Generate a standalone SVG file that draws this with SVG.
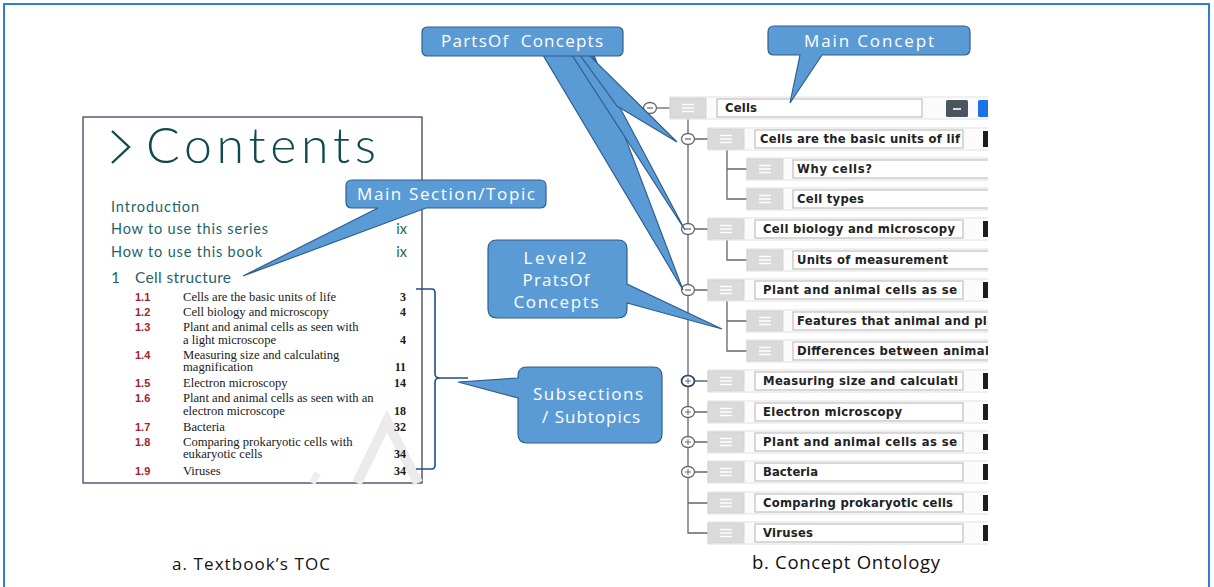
<svg xmlns="http://www.w3.org/2000/svg" width="1214" height="587" viewBox="0 0 1214 587">
  <style>
    .toc-h { font-family: "Lato", "Noto Sans", sans-serif; fill: #1d6468; }
    .num { font-family: "Liberation Sans", sans-serif; font-weight: bold; font-size: 11px; fill: #a3222a; }
    .item { font-family: "Liberation Serif", serif; font-size: 12.6px; fill: #1a1a1a; }
    .pg { font-family: "Liberation Serif", serif; font-size: 12px; fill: #1a1a1a; text-anchor: end; font-weight: bold; }
    .co { fill: #5b9bd5; stroke: #2f5f8e; stroke-width: 1.2; }
    .co-t { font-family: "Open Sans", "Noto Sans", sans-serif; font-size: 17px; fill: #ffffff; text-anchor: middle; white-space: pre; }
    .rowbg { fill: #fbfbfb; stroke: #e2e2e2; stroke-width: 1; }
    .handle { fill: #dadada; stroke: #cfcfcf; stroke-width: 0.8; }
    .grip { stroke: #ffffff; stroke-width: 1.4; }
    .tbox { fill: #ffffff; stroke: #b3b3b3; stroke-width: 1; }
    .tt { font-family: "DejaVu Sans", "Liberation Sans", sans-serif; font-weight: bold; font-size: 11.6px; fill: #222; }
    .tree-line { stroke: #666; stroke-width: 1.3; fill: none; }
    .tog { fill: #ffffff; stroke: #666; stroke-width: 1.3; }
    .bar { fill: #1e1e1e; }
    .cap { font-family: "Open Sans", "Noto Sans", sans-serif; fill: #111; }
  </style>
  <defs>
    <g id="grip">
      <rect class="handle" x="0" y="-10" width="36" height="20"/>
      <line class="grip" x1="12" y1="-3.5" x2="24" y2="-3.5"/>
      <line class="grip" x1="12" y1="0" x2="24" y2="0"/>
      <line class="grip" x1="12" y1="3.5" x2="24" y2="3.5"/>
    </g>
    <g id="tog-minus">
      <ellipse class="tog" cx="0" cy="0" rx="6.5" ry="5.5"/>
      <line x1="-3" y1="0" x2="3" y2="0" stroke="#666" stroke-width="1.2"/>
    </g>
    <g id="tog-plus">
      <ellipse class="tog" cx="0" cy="0" rx="6.5" ry="5.5"/>
      <line x1="-3" y1="0" x2="3" y2="0" stroke="#666" stroke-width="1"/>
      <line x1="0" y1="-3" x2="0" y2="3" stroke="#666" stroke-width="1"/>
    </g>
    <clipPath id="treeClip"><rect x="630" y="60" width="358" height="500"/></clipPath>
  </defs>

  <rect width="1214" height="587" fill="#ffffff"/>
  <!-- outer frame -->
  <rect x="4" y="4" width="1205" height="620" fill="none" stroke="#2e7fd1" stroke-width="2"/>

  <!-- a. textbook contents page -->
  <g id="toc">
    <rect x="83" y="117" width="339" height="366" fill="#ffffff" stroke="#2a3550" stroke-width="1.2"/>
    <!-- faint watermark stroke -->
    <path d="M357 483 L387 421 L418 483" fill="none" stroke="#ebebeb" stroke-width="10"/>
    <path d="M312 483 L318 473" fill="none" stroke="#efefef" stroke-width="7"/>
    <path d="M112 131 L129 147 L112 163" fill="none" stroke="#0f4a4f" stroke-width="2.4"/>
    <text class="toc-h" x="146" y="163" font-size="50" font-weight="300" style="fill:#0f4a4f" textLength="230">Contents</text>
    <text class="toc-h" x="111" y="212" font-size="14.5" textLength="88">Introduction</text>
    <text class="toc-h" x="111" y="234" font-size="14.5" textLength="157">How to use this series</text>
    <text class="toc-h" x="407" y="234" font-size="14.5" text-anchor="end">ix</text>
    <text class="toc-h" x="111" y="257" font-size="14.5" textLength="151">How to use this book</text>
    <text class="toc-h" x="407" y="257" font-size="14.5" text-anchor="end">ix</text>
    <text class="toc-h" x="111" y="283" font-size="15.5">1</text>
    <text class="toc-h" x="135" y="283" font-size="15.5" textLength="96">Cell structure</text>

    <text class="num" x="135" y="301">1.1</text>
    <text class="item" x="183" y="301">Cells are the basic units of life</text>
    <text class="pg" x="406" y="301">3</text>
    <text class="num" x="135" y="316">1.2</text>
    <text class="item" x="183" y="316">Cell biology and microscopy</text>
    <text class="pg" x="406" y="316">4</text>
    <text class="num" x="135" y="331">1.3</text>
    <text class="item" x="183" y="331">Plant and animal cells as seen with</text>
    <text class="item" x="183" y="344">a light microscope</text>
    <text class="pg" x="406" y="344">4</text>
    <text class="num" x="135" y="359">1.4</text>
    <text class="item" x="183" y="359">Measuring size and calculating</text>
    <text class="item" x="183" y="371">magnification</text>
    <text class="pg" x="406" y="371">11</text>
    <text class="num" x="135" y="387">1.5</text>
    <text class="item" x="183" y="387">Electron microscopy</text>
    <text class="pg" x="406" y="387">14</text>
    <text class="num" x="135" y="402">1.6</text>
    <text class="item" x="183" y="402">Plant and animal cells as seen with an</text>
    <text class="item" x="183" y="415">electron microscope</text>
    <text class="pg" x="406" y="415">18</text>
    <text class="num" x="135" y="431">1.7</text>
    <text class="item" x="183" y="431">Bacteria</text>
    <text class="pg" x="406" y="431">32</text>
    <text class="num" x="135" y="446">1.8</text>
    <text class="item" x="183" y="446">Comparing prokaryotic cells with</text>
    <text class="item" x="183" y="458">eukaryotic cells</text>
    <text class="pg" x="406" y="458">34</text>
    <text class="num" x="135" y="475">1.9</text>
    <text class="item" x="183" y="475">Viruses</text>
    <text class="pg" x="406" y="475">34</text>
  </g>

  <!-- brace grouping subsections -->
  <g id="brace">
    <path d="M416 289 L432 289 Q435 289 435 293 L435 374 Q435 378 440 378 L468 378 M440 378 Q435 378 435 382 L435 465 Q435 469 432 469 L416 469" fill="none" stroke="#1f4e8c" stroke-width="1.6"/>
  </g>

  <!-- b. concept ontology tree -->
  <g id="ontology" clip-path="url(#treeClip)">
    <!-- trunk and branches -->
    <g id="connectors">
      <path class="tree-line" d="M688 118 L688 533 L708 533"/>
      <path class="tree-line" d="M656 108 L670 108"/>
      <path class="tree-line" d="M694 139 L708 139 M694 229 L708 229 M694 290 L708 290 M694 381 L708 381 M694 412 L708 412 M694 442 L708 442 M694 472 L708 472 M688 503 L708 503"/>
      <path class="tree-line" d="M727 149 L727 199 L747 199 M727 169 L747 169"/>
      <path class="tree-line" d="M727 239 L727 260 L747 260"/>
      <path class="tree-line" d="M727 300 L727 351 L747 351 M727 321 L747 321"/>
    </g>

    <g id="node-cells">
      <rect class="rowbg" x="670" y="97" width="330" height="22"/>
      <use href="#grip" x="670" y="108"/>
      <rect class="tbox" x="717" y="99" width="205" height="18"/>
      <text class="tt" x="725" y="112" textLength="32">Cells</text>
      <rect x="946" y="100" width="22" height="17" rx="1.5" fill="#4a5560"/>
      <line x1="953" y1="109" x2="961" y2="109" stroke="#ffffff" stroke-width="1.6"/>
      <rect x="978" y="100" width="14" height="17" rx="1.5" fill="#1a73e8"/>
      <use href="#tog-minus" x="650" y="108"/>
    </g>

    <g id="node-basic-units">
      <rect class="rowbg" x="708" y="128" width="300" height="22"/>
      <use href="#grip" x="708" y="139"/>
      <rect class="tbox" x="755" y="130" width="208" height="18"/>
      <text class="tt" x="760" y="143" textLength="200">Cells are the basic units of lif</text>
      <rect class="bar" x="983" y="131" width="6" height="16"/>
      <use href="#tog-minus" x="688" y="139"/>
    </g>
    <g id="node-why-cells">
      <rect class="rowbg" x="747" y="158" width="260" height="22"/>
      <use href="#grip" x="747" y="169"/>
      <rect class="tbox" x="793" y="160" width="210" height="18"/>
      <text class="tt" x="797" y="173" textLength="75">Why cells?</text>
    </g>
    <g id="node-cell-types">
      <rect class="rowbg" x="747" y="188" width="260" height="22"/>
      <use href="#grip" x="747" y="199"/>
      <rect class="tbox" x="793" y="190" width="210" height="18"/>
      <text class="tt" x="797" y="203" textLength="67">Cell types</text>
    </g>

    <g id="node-cell-biology">
      <rect class="rowbg" x="708" y="218" width="300" height="22"/>
      <use href="#grip" x="708" y="229"/>
      <rect class="tbox" x="755" y="220" width="208" height="18"/>
      <text class="tt" x="763" y="233" textLength="192">Cell biology and microscopy</text>
      <rect class="bar" x="983" y="221" width="6" height="16"/>
      <use href="#tog-minus" x="688" y="229"/>
    </g>
    <g id="node-units">
      <rect class="rowbg" x="747" y="249" width="260" height="22"/>
      <use href="#grip" x="747" y="260"/>
      <rect class="tbox" x="793" y="251" width="210" height="18"/>
      <text class="tt" x="797" y="264" textLength="151">Units of measurement</text>
    </g>

    <g id="node-plant-animal-light">
      <rect class="rowbg" x="708" y="279" width="300" height="22"/>
      <use href="#grip" x="708" y="290"/>
      <rect class="tbox" x="755" y="281" width="208" height="18"/>
      <text class="tt" x="763" y="294" textLength="194">Plant and animal cells as se</text>
      <rect class="bar" x="983" y="282" width="6" height="16"/>
      <use href="#tog-minus" x="688" y="290"/>
    </g>
    <g id="node-features">
      <rect class="rowbg" x="747" y="310" width="260" height="22"/>
      <use href="#grip" x="747" y="321"/>
      <rect class="tbox" x="793" y="312" width="210" height="18"/>
      <text class="tt" x="797" y="325" textLength="198">Features that animal and pla</text>
    </g>
    <g id="node-differences">
      <rect class="rowbg" x="747" y="340" width="260" height="22"/>
      <use href="#grip" x="747" y="351"/>
      <rect class="tbox" x="793" y="342" width="210" height="18"/>
      <text class="tt" x="797" y="355" textLength="192">Differences between animal</text>
    </g>

    <g id="node-measuring">
      <rect class="rowbg" x="708" y="370" width="300" height="22"/>
      <use href="#grip" x="708" y="381"/>
      <rect class="tbox" x="755" y="372" width="208" height="18"/>
      <text class="tt" x="763" y="385" textLength="195">Measuring size and calculati</text>
      <rect class="bar" x="983" y="373" width="6" height="16"/>
      <use href="#tog-plus" x="688" y="381"/>
      <ellipse cx="688" cy="381" rx="6.5" ry="5.5" fill="none" stroke="#2b4a6f" stroke-width="1.6"/>
    </g>
    <g id="node-electron">
      <rect class="rowbg" x="708" y="401" width="300" height="22"/>
      <use href="#grip" x="708" y="412"/>
      <rect class="tbox" x="755" y="403" width="208" height="18"/>
      <text class="tt" x="763" y="416" textLength="139">Electron microscopy</text>
      <rect class="bar" x="983" y="404" width="6" height="16"/>
      <use href="#tog-plus" x="688" y="412"/>
    </g>
    <g id="node-plant-animal-electron">
      <rect class="rowbg" x="708" y="431" width="300" height="22"/>
      <use href="#grip" x="708" y="442"/>
      <rect class="tbox" x="755" y="433" width="208" height="18"/>
      <text class="tt" x="763" y="446" textLength="194">Plant and animal cells as se</text>
      <rect class="bar" x="983" y="434" width="6" height="16"/>
      <use href="#tog-plus" x="688" y="442"/>
    </g>
    <g id="node-bacteria">
      <rect class="rowbg" x="708" y="461" width="300" height="22"/>
      <use href="#grip" x="708" y="472"/>
      <rect class="tbox" x="755" y="463" width="208" height="18"/>
      <text class="tt" x="763" y="476" textLength="55">Bacteria</text>
      <rect class="bar" x="983" y="464" width="6" height="16"/>
      <use href="#tog-plus" x="688" y="472"/>
    </g>
    <g id="node-comparing">
      <rect class="rowbg" x="708" y="492" width="300" height="22"/>
      <use href="#grip" x="708" y="503"/>
      <rect class="tbox" x="755" y="494" width="208" height="18"/>
      <text class="tt" x="763" y="507" textLength="190">Comparing prokaryotic cells</text>
      <rect class="bar" x="983" y="495" width="6" height="16"/>
    </g>
    <g id="node-viruses">
      <rect class="rowbg" x="708" y="522" width="300" height="22"/>
      <use href="#grip" x="708" y="533"/>
      <rect class="tbox" x="755" y="524" width="208" height="18"/>
      <text class="tt" x="763" y="537" textLength="50">Viruses</text>
      <rect class="bar" x="983" y="525" width="6" height="16"/>
    </g>
  </g>

  <!-- callouts -->
  <g id="callout-main-section">
    <path class="co" d="M352 180 H540 Q546 180 546 186 V202 Q546 208 540 208 H426 L243 276 L378 208 H352 Q346 208 346 202 V186 Q346 180 352 180 Z"/>
    <text class="co-t" x="446" y="200" textLength="178">Main Section/Topic</text>
  </g>

  <g id="callout-parts-of">
    <polygon class="co" points="543,55 594,55 683,290"/>
    <polygon class="co" points="572,55 592,55 685,230"/>
    <polygon class="co" points="580,55 589,55 677,142 617,106"/>
    <rect class="co" x="422" y="27" width="201" height="29" rx="5"/>
    <text class="co-t" x="522" y="47" xml:space="preserve" textLength="162">PartsOf  Concepts</text>
  </g>

  <g id="callout-main-concept">
    <path class="co" d="M774 26 H964 Q970 26 970 32 V49 Q970 55 964 55 H822 L790 103 L800 55 H774 Q768 55 768 49 V32 Q768 26 774 26 Z"/>
    <text class="co-t" x="869" y="47" textLength="130">Main Concept</text>
  </g>

  <g id="callout-level2">
    <path class="co" d="M497 240 H618 Q627 240 627 249 V284 L722 329 L627 303 V309 Q627 318 618 318 H497 Q488 318 488 309 V249 Q488 240 497 240 Z"/>
    <text class="co-t" x="555" y="264" textLength="63">Level2</text>
    <text class="co-t" x="556" y="286" textLength="67">PratsOf</text>
    <text class="co-t" x="556" y="308" textLength="85">Concepts</text>
  </g>

  <g id="callout-subsections">
    <path class="co" d="M527 367 H653 Q662 367 662 376 V434 Q662 443 653 443 H527 Q518 443 518 434 V398 L458 382 L518 378 V376 Q518 367 527 367 Z"/>
    <text class="co-t" x="588" y="400" textLength="110">Subsections</text>
    <text class="co-t" x="591" y="423" textLength="98">/ Subtopics</text>
  </g>

  <!-- captions -->
  <text class="cap" x="172" y="570" font-size="17" textLength="158">a. Textbook’s TOC</text>
  <text class="cap" x="752" y="569" font-size="18.5" textLength="188">b. Concept Ontology</text>
</svg>
